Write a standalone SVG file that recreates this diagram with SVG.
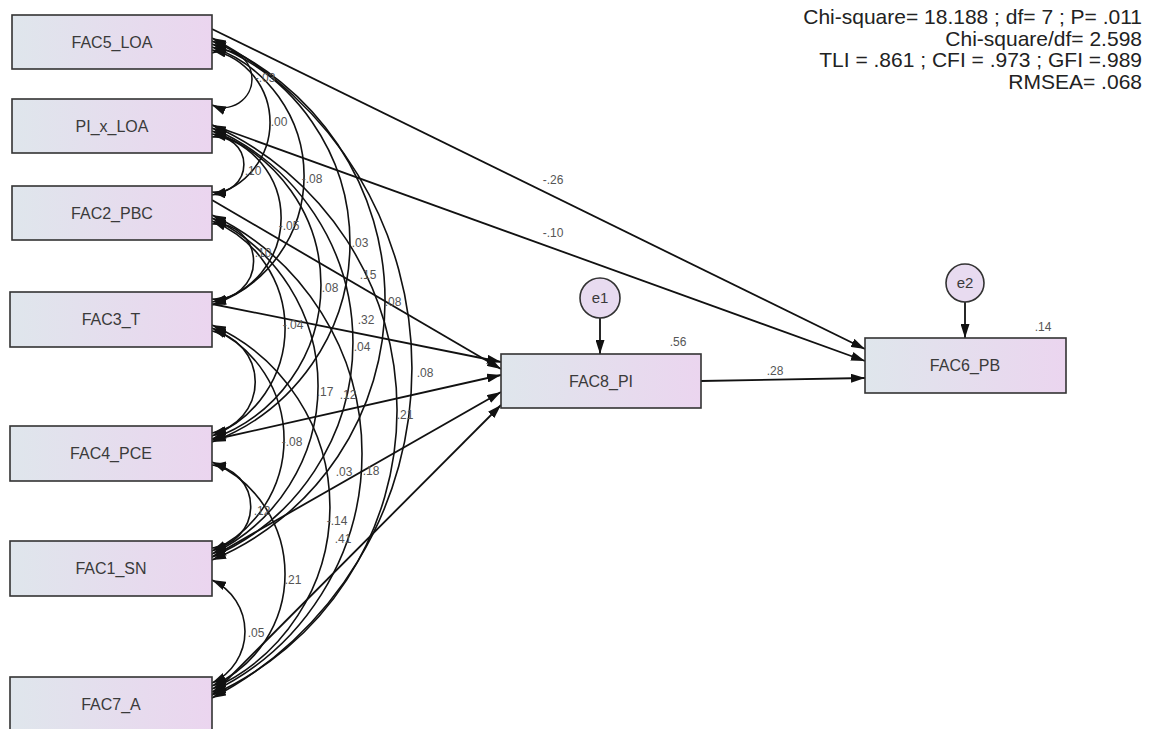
<svg xmlns="http://www.w3.org/2000/svg" width="1152" height="729" viewBox="0 0 1152 729">
<style>
.box{fill:url(#boxfill);stroke:#333;stroke-width:1.6}
.err{fill:#e8dbf0;stroke:#333;stroke-width:1.6}
.nl{font-family:"Liberation Sans",Arial,sans-serif;font-size:16px;fill:#3a3a3a;text-anchor:middle}
.el{font-family:"Liberation Sans",Arial,sans-serif;font-size:15px;fill:#3a3a3a;text-anchor:middle}
.cl{font-family:"Liberation Sans",Arial,sans-serif;font-size:12px;fill:#555;text-anchor:middle}
.fit{font-family:"Liberation Sans",Arial,sans-serif;font-size:21px;fill:#222;text-anchor:end}
.arc{fill:none;stroke:#111;stroke-width:1.6;marker-start:url(#ah);marker-end:url(#ah)}
.ln{fill:none;stroke:#111;stroke-width:1.8;marker-end:url(#ah)}
</style>
<defs>
<linearGradient id="boxfill" x1="0" y1="0" x2="1" y2="0">
<stop offset="0" stop-color="#dfe6ec"/>
<stop offset="1" stop-color="#ebd5ef"/>
</linearGradient>
<marker id="ah" viewBox="0 0 14 9" refX="14" refY="4.5" markerWidth="14" markerHeight="9" markerUnits="userSpaceOnUse" orient="auto-start-reverse">
<path d="M0,0 L14,4.5 L0,9 z" fill="#111"/>
</marker>
</defs>
<rect width="1152" height="729" fill="#fff"/>

<g id="connectors">
<path class="arc" d="M212,53 A28.45,28.45 0 1 1 212,105"/>
<path class="arc" d="M212,50 A74.3,74.3 0 0 1 212,195"/>
<path class="arc" d="M212,47 A136.4,136.4 0 0 1 212,305"/>
<path class="arc" d="M212,44 A212.5,212.5 0 0 1 212,442"/>
<path class="arc" d="M212,41 A281.1,281.1 0 0 1 212,560"/>
<path class="arc" d="M212,38 A372.3,372.3 0 0 1 212,698"/>
<path class="arc" d="M212,137 A27.8,27.8 0 1 1 212,192"/>
<path class="arc" d="M212,134 A85.6,85.6 0 0 1 212,302"/>
<path class="arc" d="M212,131 A163.3,163.3 0 0 1 212,439"/>
<path class="arc" d="M212,128 A233.7,233.7 0 0 1 212,557"/>
<path class="arc" d="M212,125 A312,312 0 0 1 212,695"/>
<path class="arc" d="M212,224 A37.7,37.7 0 1 1 212,299"/>
<path class="arc" d="M212,221 A115.6,115.6 0 0 1 212,436"/>
<path class="arc" d="M212,218 A186.1,186.1 0 0 1 212,554"/>
<path class="arc" d="M212,215 A264.6,264.6 0 0 1 212,692"/>
<path class="arc" d="M212,331 A51.7,51.7 0 0 1 212,433"/>
<path class="arc" d="M212,328 A122.3,122.3 0 0 1 212,551"/>
<path class="arc" d="M212,325 A199.4,199.4 0 0 1 212,689"/>
<path class="arc" d="M212,465 A41.6,41.6 0 0 1 212,548"/>
<path class="arc" d="M212,462 A122.4,122.4 0 0 1 212,686"/>
<path class="arc" d="M212,580 A56.7,56.7 0 0 1 212,683"/>

<path class="ln" d="M212,29 L865,349"/>
<path class="ln" d="M212,125 L865,361"/>
<path class="ln" d="M701,381 L865,378"/>
<path class="ln" d="M600,318 L600,354"/>
<path class="ln" d="M965,302 L965,338"/>
<path class="ln" d="M212,200 L501,369"/>
<path class="ln" d="M212,304 L501,362"/>
<path class="ln" d="M212,440 L501,375"/>
<path class="ln" d="M212,557 L501,392"/>
<path class="ln" d="M212,695 L501,405"/>
</g>

<g id="labels">
<text class="cl" x="265" y="82">-.03</text>
<text class="cl" x="279" y="126">.00</text>
<text class="cl" x="253" y="175">.10</text>
<text class="cl" x="312" y="183">-.08</text>
<text class="cl" x="289" y="230">-.05</text>
<text class="cl" x="360" y="247">.03</text>
<text class="cl" x="263" y="257">.10</text>
<text class="cl" x="368" y="279">.15</text>
<text class="cl" x="330" y="292">.08</text>
<text class="cl" x="393" y="306">.08</text>
<text class="cl" x="366" y="324">.32</text>
<text class="cl" x="293" y="329">-.04</text>
<text class="cl" x="362" y="351">.04</text>
<text class="cl" x="425" y="377">.08</text>
<text class="cl" x="325" y="396">.17</text>
<text class="cl" x="348" y="399">.12</text>
<text class="cl" x="405" y="419">.21</text>
<text class="cl" x="292" y="446">-.08</text>
<text class="cl" x="344" y="476">.03</text>
<text class="cl" x="371" y="475">.18</text>
<text class="cl" x="262" y="515">.12</text>
<text class="cl" x="337" y="525">-.14</text>
<text class="cl" x="343" y="543">.41</text>
<text class="cl" x="293" y="584">.21</text>
<text class="cl" x="256" y="637">.05</text>
<text class="cl" x="553" y="184">-.26</text>
<text class="cl" x="553" y="237">-.10</text>
<text class="cl" x="775" y="375">.28</text>
<text class="cl" x="678" y="346">.56</text>
<text class="cl" x="1043" y="331">.14</text>
</g>

<g id="node-FAC5_LOA"><rect class="box" x="12" y="15" width="200" height="54"/><text class="nl" x="112" y="48">FAC5_LOA</text></g>
<g id="node-PI_x_LOA"><rect class="box" x="12" y="99" width="200" height="54"/><text class="nl" x="112" y="132">PI_x_LOA</text></g>
<g id="node-FAC2_PBC"><rect class="box" x="12" y="186" width="200" height="54"/><text class="nl" x="112" y="219">FAC2_PBC</text></g>
<g id="node-FAC3_T"><rect class="box" x="10" y="292" width="202" height="55"/><text class="nl" x="111" y="325">FAC3_T</text></g>
<g id="node-FAC4_PCE"><rect class="box" x="10" y="426" width="202" height="55"/><text class="nl" x="111" y="459">FAC4_PCE</text></g>
<g id="node-FAC1_SN"><rect class="box" x="10" y="541" width="202" height="55"/><text class="nl" x="111" y="574">FAC1_SN</text></g>
<g id="node-FAC7_A"><rect class="box" x="10" y="677" width="202" height="58"/><text class="nl" x="111" y="710">FAC7_A</text></g>
<g id="node-FAC8_PI"><rect class="box" x="501" y="354" width="200" height="54"/><text class="nl" x="601" y="387">FAC8_PI</text></g>
<g id="node-FAC6_PB"><rect class="box" x="865" y="338" width="201" height="55"/><text class="nl" x="965" y="371">FAC6_PB</text></g>
<g id="node-e1"><circle class="err" cx="600" cy="298" r="20"/><text class="el" x="600" y="303">e1</text></g>
<g id="node-e2"><circle class="err" cx="965" cy="283" r="19"/><text class="el" x="965" y="288">e2</text></g>

<g id="fit">
<text class="fit" x="1142" y="24">Chi-square= 18.188 ; df= 7 ; P= .011</text>
<text class="fit" x="1142" y="45.5">Chi-square/df= 2.598</text>
<text class="fit" x="1142" y="67">TLI = .861 ; CFI = .973 ; GFI =.989</text>
<text class="fit" x="1142" y="88.5">RMSEA= .068</text>
</g>
</svg>
